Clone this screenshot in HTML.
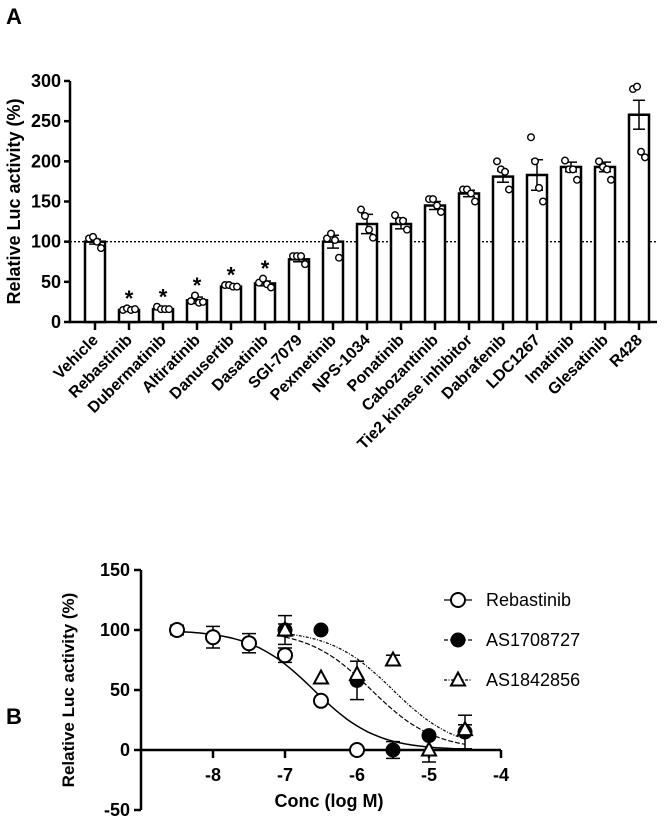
<!DOCTYPE html>
<html><head><meta charset="utf-8">
<style>
html,body{margin:0;padding:0;background:#fff;}
svg{display:block;font-family:"Liberation Sans",Arial,sans-serif;}
</style></head>
<body>
<svg id="fig" width="665" height="819" viewBox="0 0 665 819">
<text x="6" y="24" font-size="22" font-weight="bold">A</text>
<text x="6" y="724" font-size="22" font-weight="bold">B</text>
<g id="chartA"></g>
<g id="chartB"></g>
</svg>
<script>
const NS='http://www.w3.org/2000/svg';
function mk(tag,attrs,parent){const e=document.createElementNS(NS,tag);for(const k in attrs)e.setAttribute(k,attrs[k]);parent.appendChild(e);return e;}

// ---------- Chart A data ----------
const categories=['Vehicle','Rebastinib','Dubermatinib','Altiratinib','Danusertib','Dasatinib','SGI-7079','Pexmetinib','NPS-1034','Ponatinib','Cabozantinib','Tie2 kinase inhibitor','Dabrafenib','LDC1267','Imatinib','Glesatinib','R428'];
const means=[100,15,16,27,44,48,78,100,122,122,145,160,181,183,193,193,258];
const sems=[3,1,1,4,1,3,3,8,12,6,5,4,7,19,6,6,18];
const points=[[104,106,100,92],[15,17,15,16],[19,16,16,16],[26,33,24,25],[46,46,44,44],[49,54,47,43],[82,82,82,72],[104,110,102,80],[140,132,115,105],[133,126,126,115],[153,153,145,137],[165,165,160,150],[200,190,187,165],[230,200,167,150],[201,190,190,177],[200,193,190,177],[290,293,212,205]];
const sig=[false,true,true,true,true,true,false,false,false,false,false,false,false,false,false,false,false];
const yTicksA=[0,50,100,150,200,250,300];

const A=document.getElementById('chartA');
const ax0=70,ay0=322,ayScale=241/300,bx0=95,bstep=34;
const yA=v=>ay0-v*ayScale, xA=i=>bx0+i*bstep;
let e=mk('line',{x1:ax0,y1:yA(300),x2:ax0,y2:ay0,stroke:'#000','stroke-width':2.5},A);

e=mk('line',{x1:ax0-1,y1:ay0,x2:657,y2:ay0,stroke:'#000','stroke-width':2.5},A);

yTicksA.forEach(t=>{
  mk('line',{x1:ax0-6,y1:yA(t),x2:ax0,y2:yA(t),stroke:'#000','stroke-width':2.5},A);
  const tx=mk('text',{x:ax0-9,y:yA(t)+6,'text-anchor':'end','font-size':18,'font-weight':'bold'},A);
  tx.textContent=t;
  
  
});
e=mk('text',{transform:'translate(20,'+yA(150)+') rotate(-90)','text-anchor':'middle','font-size':18,'font-weight':'bold'},A);
e.textContent='Relative Luc activity (%)';

e=mk('line',{x1:ax0,y1:yA(100),x2:657,y2:yA(100),stroke:'#000','stroke-width':1.3,'stroke-dasharray':'2,2'},A);

categories.forEach((c,i)=>{
  const x=xA(i),m=means[i];
  const r=mk('rect',{x:x-10,y:yA(m),width:20,height:ay0-yA(m),fill:'#fff',stroke:'#000','stroke-width':2.5},A);
  
  
  mk('line',{x1:x,y1:yA(m+sems[i]),x2:x,y2:yA(m-sems[i]),stroke:'#000','stroke-width':1.5},A);
  mk('line',{x1:x-6,y1:yA(m+sems[i]),x2:x+6,y2:yA(m+sems[i]),stroke:'#000','stroke-width':1.5},A);
  mk('line',{x1:x-6,y1:yA(m-sems[i]),x2:x+6,y2:yA(m-sems[i]),stroke:'#000','stroke-width':1.5},A);
  const offs=[-6,-2,2,6];
  points[i].forEach((p,j)=>{
    const c2=mk('circle',{cx:x+offs[j],cy:yA(p),r:3.3,fill:'#fff',stroke:'#000','stroke-width':1.4},A);
    
    
  });
  if(sig[i]){
    const s=mk('text',{x:x,y:yA(Math.max(...points[i])+8)+4,'text-anchor':'middle','font-size':22,'font-weight':'bold'},A);
    s.textContent='*';
    
    
  }
  mk('line',{x1:x,y1:ay0,x2:x,y2:ay0+8,stroke:'#000','stroke-width':2.5},A);
  const lb=mk('text',{transform:'translate('+(x+4)+','+(ay0+19)+') rotate(-45)','text-anchor':'end','font-size':16,'font-weight':'bold'},A);
  lb.textContent=c;
  
  
});

// ---------- Chart B data ----------
const concs=[-8.5,-8,-7.5,-7,-6.5,-6,-5.5,-5,-4.5];
const rebValues=[100,94,89,79,41,0,null,null,null];
const rebErr=[4,9,8,6,2,2,0,0,0];
const as1708Values=[null,null,null,100,100,58,0,12,15];
const as1708Err=[0,0,0,12,0,16,7,0,14];
const as1842Values=[null,null,null,100,60,63,75,0,17];
const as1842Err=[0,0,0,5,0,0,4,10,4];
const fitIC50=[-6.6,-5.8,-5.5];
const fitTop=[100,100,100];
const xTicksB=[-8,-7,-6,-5,-4];
const yTicksB=[-50,0,50,100,150];

const B=document.getElementById('chartB');
const bxa=141,bxScale=72,bya0=750,byScale=1.2;
const xB=v=>bxa+(v+9)*bxScale, yB=v=>bya0-v*byScale;
e=mk('line',{x1:bxa,y1:yB(150),x2:bxa,y2:yB(-50),stroke:'#000','stroke-width':2.5},B);

e=mk('line',{x1:bxa,y1:yB(0),x2:xB(-4),y2:yB(0),stroke:'#000','stroke-width':2.5},B);

yTicksB.forEach(t=>{
  mk('line',{x1:bxa-7,y1:yB(t),x2:bxa,y2:yB(t),stroke:'#000','stroke-width':2.5},B);
  const tx=mk('text',{x:bxa-11,y:yB(t)+6,'text-anchor':'end','font-size':18,'font-weight':'bold'},B);
  tx.textContent=t;
  
  
});
xTicksB.forEach(t=>{
  mk('line',{x1:xB(t),y1:yB(0),x2:xB(t),y2:yB(0)+8,stroke:'#000','stroke-width':2.5},B);
  const tx=mk('text',{x:xB(t),y:yB(0)+31,'text-anchor':'middle','font-size':18,'font-weight':'bold'},B);
  tx.textContent=t;
  
  
});
e=mk('text',{transform:'translate(74,'+yB(50)+') rotate(-90)','text-anchor':'middle','font-size':17,'font-weight':'bold'},B);
e.textContent='Relative Luc activity (%)';

e=mk('text',{x:xB(-6.5)+8,y:807,'text-anchor':'middle','font-size':18,'font-weight':'bold'},B);
e.textContent='Conc (log M)';


const curveStyles=[{d:'',s:1.5,start:-8.5},{d:'5,2',s:1.2,start:-7},{d:'3,1.5,1,1.5',s:1.2,start:-7}];
const curveNames=['curve-rebastinib','curve-as1708727','curve-as1842856'];
fitIC50.forEach((ic,k)=>{
  let d='';
  for(let v=curveStyles[k].start;v<=-4.5+1e-9;v+=0.05){
    const y=fitTop[k]/(1+Math.pow(10,v-ic));
    d+=(d?'L':'M')+xB(v).toFixed(1)+','+yB(y).toFixed(1);
  }
  const p=mk('path',{d:d,fill:'none',stroke:'#000','stroke-width':curveStyles[k].s,'stroke-dasharray':curveStyles[k].d},B);
  
  
});
function marker(kind,cx,cy,g){
  if(kind==='open')return mk('circle',{cx:cx,cy:cy,r:7,fill:'#fff',stroke:'#000','stroke-width':2},g);
  if(kind==='filled')return mk('circle',{cx:cx,cy:cy,r:7,fill:'#000',stroke:'#000','stroke-width':1},g);
  return mk('path',{d:`M${cx},${cy-7.5}L${cx+7},${cy+5.5}L${cx-7},${cy+5.5}Z`,fill:'#fff',stroke:'#000','stroke-width':2},g);
}
const seriesList=[[rebValues,rebErr,'open','rebastinib'],[as1708Values,as1708Err,'filled','as1708727'],[as1842Values,as1842Err,'tri','as1842856']];
seriesList.forEach(([vals,errs,kind,nm])=>{
  vals.forEach((v,i)=>{
    if(v===null)return;
    const x=xB(concs[i]);
    if(errs[i]>0){
      mk('line',{x1:x,y1:yB(v+errs[i]),x2:x,y2:yB(v-errs[i]),stroke:'#000','stroke-width':1.5},B);
      mk('line',{x1:x-7,y1:yB(v+errs[i]),x2:x+7,y2:yB(v+errs[i]),stroke:'#000','stroke-width':1.5},B);
      mk('line',{x1:x-7,y1:yB(v-errs[i]),x2:x+7,y2:yB(v-errs[i]),stroke:'#000','stroke-width':1.5},B);
    }
    const m=marker(kind,x,yB(v),B);
    
    
  });
});
const legendLabels=['Rebastinib','AS1708727','AS1842856'];
const legendKinds=['open','filled','tri'];
const legendDash=['','4,2','3,1.5,1,1.5'];
legendLabels.forEach((l,k)=>{
  const y=600+k*40;
  const g=mk('g',{},B);
  
  
  mk('line',{x1:444,y1:y,x2:472,y2:y,stroke:'#000','stroke-width':1.3,'stroke-dasharray':legendDash[k]},g);
  marker(legendKinds[k],458,y,g);
  const t=mk('text',{x:486,y:y+6,'font-size':18},g);
  t.textContent=l;
});
</script>
</body></html>
